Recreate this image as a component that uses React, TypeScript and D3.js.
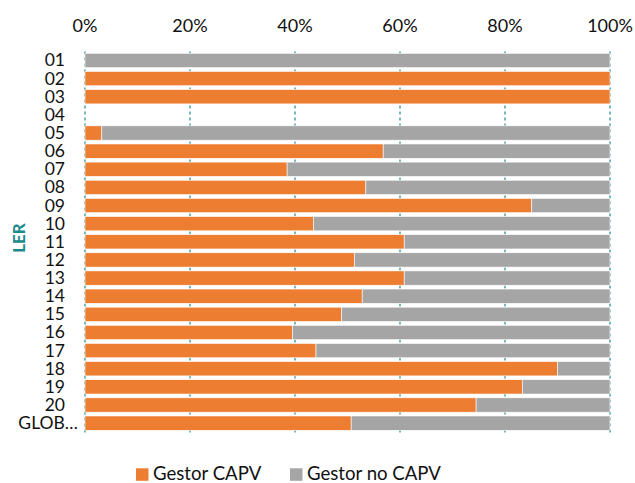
import React from "react";
import * as d3 from "d3";

const categories = ["01","02","03","04","05","06","07","08","09","10","11","12","13","14","15","16","17","18","19","20","GLOB…"];
const gestorCAPV = [0, 100, 100, 0, 3.2, 56.8, 38.5, 53.5, 85.1, 43.5, 60.8, 51.3, 60.8, 52.8, 48.9, 39.5, 44.0, 90.0, 83.3, 74.5, 50.7];
const gestorNoCAPV = [100, 0, 0, 0, 96.8, 43.2, 61.5, 46.5, 14.9, 56.5, 39.2, 48.7, 39.2, 47.2, 51.1, 60.5, 56.0, 10.0, 16.7, 25.5, 49.3];
const xTicks = [0, 0.2, 0.4, 0.6, 0.8, 1.0];
const seriesNames = ["Gestor CAPV", "Gestor no CAPV"];
const colors = ["#ED7D31", "#A5A5A5"];

const W = 635, H = 483;
const FONT = "Lato, 'Open Sans', sans-serif";

export default function App() {
  const x = d3.scaleLinear().domain([0, 1]).range([85, 610]);
  const y = d3.scaleBand<string>().domain(categories).range([51.4, 432.2]).paddingInner(0.21).paddingOuter(0.105);
  const pct = d3.format(".0%");

  const rows = categories.map((c, i) => {
    const total = gestorCAPV[i] + gestorNoCAPV[i];
    const a = total > 0 ? gestorCAPV[i] / total : 0;
    const b = total > 0 ? gestorNoCAPV[i] / total : 0;
    return { c, segs: [[0, a], [a, a + b]] };
  });

  return (
    <svg width={W} height={H} style={{ position: "absolute", left: 0, top: 0 }} fontFamily={FONT}>
      <rect width={W} height={H} fill="#fff" />
      {xTicks.map((t) => (
        <line key={"g" + t} x1={x(t)} x2={x(t)} y1={51.4} y2={432.7} stroke="#1A8A8C" strokeWidth={1.2} strokeDasharray="3,3" />
      ))}
      {rows.map((r) =>
        r.segs.map((s, k) =>
          s[1] - s[0] > 0 ? (
            <rect key={r.c + k} x={x(s[0])} y={y(r.c)!} width={x(s[1]) - x(s[0])} height={y.bandwidth()} fill={colors[k]} stroke="#fff" strokeWidth={0.6} />
          ) : null
        )
      )}
      {xTicks.map((t) => (
        <text key={"t" + t} x={x(t)} y={31.5} textAnchor="middle" fontSize={18} fill="#111">{pct(t)}</text>
      ))}
      {categories.map((c, i) => (
        <text key={"c" + c} x={i === categories.length - 1 ? 78 : 65} y={y(c)! + y.bandwidth() / 2 + 6} textAnchor="end" fontSize={17.5} fill="#111">{c}</text>
      ))}
      <text transform="translate(25,238) rotate(-90)" textAnchor="middle" fontSize={17} fontWeight="bold" fill="#1A8A8C">LER</text>
      {seriesNames.map((n, i) => (
        <g key={n} transform={`translate(${i === 0 ? 136 : 290},0)`}>
          <rect x={0} y={468.3} width={12.5} height={12.5} fill={colors[i]} />
          <text x={17} y={480} fontSize={18.6} fill="#111">{n}</text>
        </g>
      ))}
    </svg>
  );
}
